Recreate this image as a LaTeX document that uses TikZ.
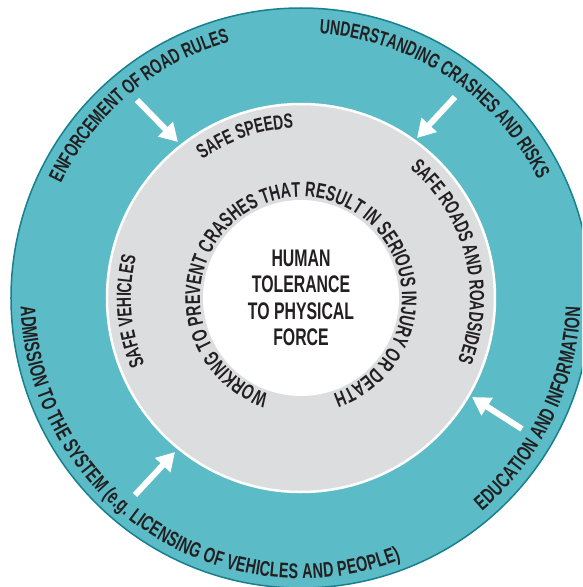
\documentclass[tikz,border=0pt]{standalone}
\usepackage{fontspec}
\setmainfont{Liberation Sans}
\newfontfamily\ringfont{Liberation Sans}[FakeStretch=0.68]
\newfontfamily\hubfont{Liberation Sans}[FakeStretch=0.66]
\usetikzlibrary{arrows.meta,decorations.text}

\definecolor{ringteal}{HTML}{5BBBC6}
\definecolor{rimteal}{HTML}{16808F}
\definecolor{zonegray}{HTML}{DCDDDF}
\definecolor{ink}{HTML}{231F20}

\newcommand\ringtype{\ringfont\bfseries\fontsize{20.5}{20.5}\selectfont\color{ink}}
\newcommand\backtype{\ringfont\bfseries\fontsize{21.2}{21.2}\selectfont\color{ink}}
\newcommand\innertype{\ringfont\bfseries\fontsize{21.2}{21.2}\selectfont\color{ink}}

\begin{document}
\begin{tikzpicture}[x=1pt,y=1pt,
    disc/.style = {circle, inner sep=0pt, outer sep=0pt},
    push/.style = {draw=white, line width=6pt, -{Triangle[width=20pt,length=18pt]}},
    along/.style = {decorate, decoration={text along path, text align=center, text={|\ringtype|#1}}},
    backalong/.style = {decorate, decoration={text along path, text align=center, raise=-7.5pt, text={|\backtype|#1}}},
    inneralong/.style = {decorate, decoration={text along path, text align=center, text={|\innertype|#1}}}]
    \clip (-301pt,-289pt) rectangle (281pt,298pt);
    % the three rings
    \node[disc, fill=ringteal, draw=rimteal, line width=1.5pt, minimum size=580pt] (outer) at (0,0) {};
    \node[disc, fill=zonegray, draw=white, line width=2.5pt, minimum size=388pt] (zone) at (0,0) {};
    \node[disc, fill=white, minimum size=196pt] (hub) at (0,0) {};
    \node[align=center, text=ink, font=\hubfont\bfseries\fontsize{24}{26.5}\selectfont] (core) at (hub.center) {HUMAN\\TOLERANCE\\TO PHYSICAL\\FORCE};

    % outer ring texts
    \path[along={ENFORCEMENT OF ROAD RULES}] (165:266pt) arc[start angle=165, end angle=95, radius=266pt];
    \path[along={UNDERSTANDING CRASHES AND RISKS}] (94.3:265pt) arc[start angle=94.3, end angle=18.3, radius=265pt];
    \path[backalong={EDUCATION AND INFORMATION}] (-60.8:272pt) arc[start angle=-60.8, end angle=9.2, radius=272pt];
    \path[backalong={ADMISSION TO THE SYSTEM (e.g. LICENSING OF VEHICLES AND PEOPLE)}] (171.3:273pt) arc[start angle=171.3, end angle=301.3, radius=273pt];

    % middle ring texts
    \path[along={SAFE SPEEDS}] (134:170pt) arc[start angle=134, end angle=84, radius=170pt];
    \path[along={SAFE ROADS AND ROADSIDES}] (59:169pt) arc[start angle=59, end angle=-31, radius=169pt];
    \path[along={SAFE VEHICLES}] (214.5:170pt) arc[start angle=214.5, end angle=154.5, radius=170pt];
    \path[inneralong={WORKING TO PREVENT CRASHES THAT RESULT IN SERIOUS INJURY OR DEATH}] (265:101pt) arc[start angle=265, end angle=-85, radius=101pt];

    % arrows into the safe system
    \coordinate (enforce-tail) at (-164pt,198pt);
    \coordinate (enforce-tip) at (-123pt,156pt);
    \coordinate (understand-tail) at (154pt,201pt);
    \coordinate (understand-tip) at (116pt,160pt);
    \coordinate (educate-tail) at (221pt,-131pt);
    \coordinate (educate-tip) at (171pt,-99pt);
    \coordinate (admit-tail) at (-166pt,-197pt);
    \coordinate (admit-tip) at (-126pt,-154pt);
    \draw[push] (enforce-tail) -- (enforce-tip);
    \draw[push] (understand-tail) -- (understand-tip);
    \draw[push] (educate-tail) -- (educate-tip);
    \draw[push] (admit-tail) -- (admit-tip);
\end{tikzpicture}
\end{document}
